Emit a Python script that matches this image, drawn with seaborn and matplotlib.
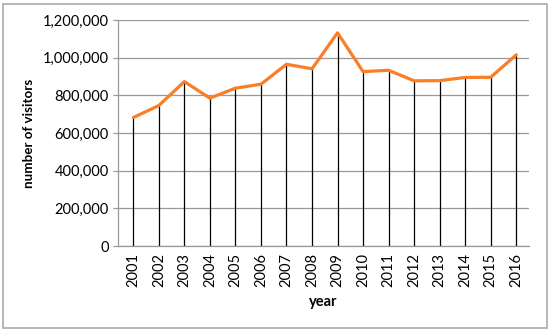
import matplotlib
matplotlib.use("Agg")
import matplotlib.pyplot as plt
import seaborn as sns
import pandas as pd
from matplotlib.ticker import FuncFormatter
from matplotlib.patches import Rectangle

years = [str(y) for y in range(2001, 2017)]
visitors = [682000, 746000, 873000, 785000, 838000, 859000, 965000, 941000,
            1132000, 926000, 933000, 877000, 878000, 895000, 896000, 1015000]
y_ticks = [0, 200000, 400000, 600000, 800000, 1000000, 1200000]

df = pd.DataFrame({"year": years, "visitors": visitors})
df["pos"] = range(len(df))

sns.set_theme(style="white")
plt.rcParams["font.family"] = ["Lato", "DejaVu Sans"]
plt.rcParams["text.color"] = "black"
plt.rcParams["axes.labelcolor"] = "black"
plt.rcParams["xtick.color"] = "black"
plt.rcParams["ytick.color"] = "black"

fig = plt.figure(figsize=(5.5, 3.32), dpi=100)
ax = fig.add_axes([118/550, 1-246/332, (529-118)/550, (246-20)/332])

ax.vlines(df["pos"], 0, df["visitors"], color="black", linewidth=0.9, zorder=2)
sns.lineplot(data=df, x="pos", y="visitors", ax=ax, color="#F97E25",
             linewidth=2.3, zorder=3)

ax.set_ylim(0, 1200000)
ax.set_xlim(-0.6, 15.5)
ax.set_yticks(y_ticks)
ax.yaxis.set_major_formatter(FuncFormatter(lambda v, p: f"{int(v):,}"))
ax.set_xticks(df["pos"])
ax.set_xticklabels(years, rotation=90)
ax.grid(axis="y", color="#999999", linewidth=0.9)
ax.grid(axis="x", visible=False)
ax.set_axisbelow(True)

for s in ["top", "right"]:
    ax.spines[s].set_visible(False)
for s in ["left", "bottom"]:
    ax.spines[s].set_color("#999999")
    ax.spines[s].set_linewidth(0.9)

ax.tick_params(axis="y", length=3.5, color="#999999", labelcolor="black",
               width=0.9, labelsize=10.5, pad=3)
ax.tick_params(axis="x", length=0, labelsize=10.5, pad=5, labelcolor="black")
ax.yaxis.set_ticks_position("left")

ax.set_xlabel("year", fontsize=10.5, fontweight="bold", labelpad=6)
ax.set_ylabel("number of visitors", fontsize=9.6, fontweight="bold", labelpad=6)

fig.patches.append(Rectangle((3/550, 4/332), 544/550, 324/332, transform=fig.transFigure,
                             fill=False, edgecolor="#AAAAAA", linewidth=1.2))

fig.savefig("out.png", dpi=100)
